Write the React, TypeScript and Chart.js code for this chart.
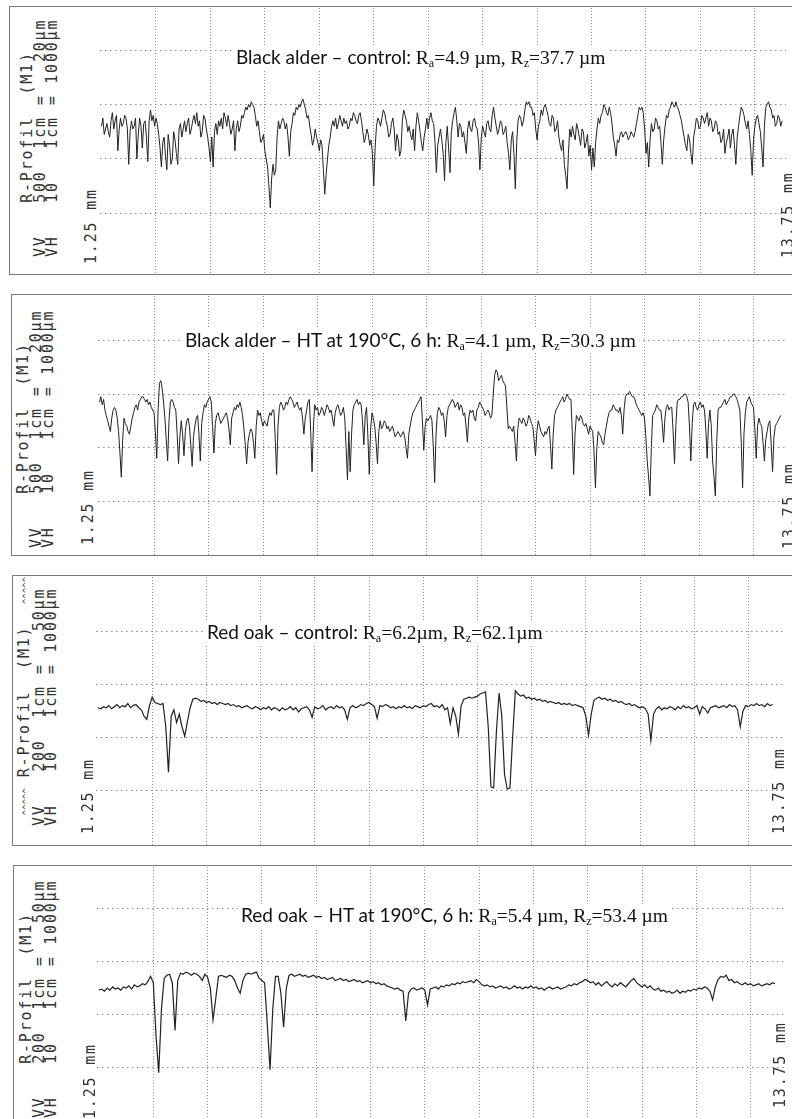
import React, { useEffect, useRef } from "react";
import { Chart, registerables } from "chart.js";

Chart.register(...registerables);

// ---------- data ----------
const START_MM = 1.25; // first sample of the evaluation length (mm)
const STEP_FINE_MM = 0.025; // sampling step of the black alder profiles (mm)
const STEP_MM = 0.05; // sampling step of the red oak profiles (mm)
const GRID_X_MM = [2.25, 3.25, 4.25, 5.25, 6.25, 7.25, 8.25, 9.25, 10.25, 11.25, 12.25, 13.25];
const GRID_Y_20 = [20, 0, -20, -40]; // 1 cm = 20 µm
const GRID_Y_50 = [50, 0, -50, -100]; // 1 cm = 50 µm

// Black alder – control (µm)
const ALDER_CONTROL = [
  -8, -5, -11, -9, -7, -10, -12, -6, -3, -9, -6, -4, -17, -9, -5, -8, -7, -4, -5, -9,
  -22, -10, -6, -9, -8, -5, -20, -11, -5, -8, -16, -7, -6, -12, -21, -6, -2, -6, -4, -8,
  -5, -7, -11, -16, -23, -14, -12, -19, -24, -11, -15, -22, -20, -10, -13, -18, -22, -9, -7, -12,
  -9, -6, -10, -7, -5, -11, -9, -6, -4, -7, -3, -8, -6, -12, -10, -4, -5, -9, -12, -16,
  -21, -12, -23, -10, -7, -11, -6, -8, -5, -9, -3, -5, -8, -4, -7, -11, -9, -6, -17, -9,
  -6, -10, -8, -4, -5, -3, -1, -2, 0, -1, 1, 0, -1, -4, -8, -6, -10, -14, -13, -11,
  -17, -20, -23, -30, -38, -27, -22, -26, -24, -12, -6, -9, -7, -5, -6, -9, -7, -12, -19, -10,
  -7, -3, -4, -1, -2, 0, -1, 1, 2, 0, -2, -5, -4, -8, -11, -15, -13, -9, -12, -14,
  -17, -13, -15, -24, -33, -26, -20, -15, -12, -8, -6, -8, -5, -9, -7, -4, -6, -8, -5, -7,
  -6, -9, -8, -5, -6, -3, -4, -6, -7, -4, -3, -6, -10, -14, -12, -9, -11, -15, -13, -18,
  -30, -16, -8, -5, -6, -8, -5, -2, -3, -6, -8, -12, -11, -7, -5, -9, -17, -11, -13, -19,
  -17, -6, -2, -4, -6, -10, -8, -11, -13, -9, -17, -8, -3, -6, -10, -14, -17, -12, -9, -5,
  -9, -5, -3, -6, -7, -14, -25, -15, -12, -9, -13, -18, -28, -14, -8, -16, -25, -10, -6, -3,
  -1, -6, -12, -7, -8, -12, -10, -14, -18, -9, -6, -9, -10, -6, -5, -8, -9, -14, -24, -12,
  -8, -10, -12, -7, -6, -9, -10, -4, -1, -5, -8, -11, -9, -6, -7, -11, -10, -8, -14, -18,
  -24, -13, -10, -18, -31, -14, -6, -4, -5, -8, -6, -2, 1, 0, 1, -1, -1, -4, -3, -9,
  -13, -8, -6, -2, -4, -1, 0, -2, -4, -7, -8, -4, -5, -10, -9, -6, -12, -15, -17, -13,
  -22, -26, -31, -18, -9, -12, -8, -11, -13, -7, -9, -12, -15, -9, -10, -16, -14, -11, -19, -15,
  -24, -16, -23, -14, -9, -5, -7, -4, -3, 0, -1, -3, -4, -1, -3, -7, -12, -15, -19, -13,
  -14, -11, -10, -12, -11, -10, -11, -13, -12, -10, -11, -12, -10, -7, -4, -1, -2, -1, -3, -9,
  -18, -14, -23, -13, -7, -10, -9, -5, -6, -9, -8, -14, -22, -13, -8, -4, -5, -2, -1, 1,
  0, -1, 1, -1, -2, -4, -6, -9, -12, -15, -17, -11, -13, -18, -22, -12, -9, -5, -6, -9,
  -8, -4, -5, -7, -5, -3, -8, -5, -6, -10, -9, -6, -7, -11, -10, -14, -13, -9, -18, -14,
  -12, -9, -16, -11, -9, -15, -22, -12, -8, -4, -1, -2, -4, -7, -9, -6, -11, -17, -26, -13,
  -8, -5, -4, -7, -10, -16, -23, -8, -1, 0, 1, -1, -2, -5, -4, -8, -7, -4, -5, -8,
  -6,
];

// Black alder – HT at 190 °C, 6 h (µm)
const ALDER_HT = [
  -3, -1, -4, -2, -6, -8, -10, -12, -14, -9, -6, -5, -6, -9, -14, -22, -31, -17, -9, -11,
  -12, -14, -15, -12, -9, -7, -5, -4, -6, -3, -2, -1, -1, -2, -3, -2, -4, -3, -5, -6,
  -7, -14, -24, -6, 4, 5, 2, -3, -9, -17, -25, -10, -3, -2, -3, -5, -6, -15, -26, -16,
  -10, -15, -23, -14, -10, -9, -12, -19, -27, -16, -12, -9, -8, -15, -25, -11, -7, -4, -5, -3,
  -2, -1, -3, -12, -22, -11, -8, -7, -9, -11, -10, -9, -8, -7, -9, -13, -19, -9, -7, -5,
  -6, -4, -5, -3, -5, -8, -13, -19, -26, -18, -15, -13, -14, -18, -24, -12, -6, -8, -7, -10,
  -12, -10, -11, -12, -9, -7, -8, -6, -6, -17, -30, -12, -5, -3, -4, -6, -5, -3, -4, -2,
  -1, -2, -3, -5, -4, -3, -5, -6, -5, -9, -15, -9, -6, -3, -2, -14, -29, -12, -4, -6,
  -5, -8, -7, -5, -6, -8, -6, -4, -5, -7, -6, -9, -12, -7, -5, -4, -6, -8, -7, -5,
  -9, -20, -32, -14, -29, -15, -6, -4, -3, -2, -4, -3, -4, -10, -19, -8, -5, -16, -30, -13,
  -7, -9, -12, -18, -26, -14, -10, -13, -12, -10, -11, -13, -12, -14, -13, -12, -14, -16, -15, -14,
  -15, -16, -15, -14, -16, -20, -24, -15, -12, -9, -7, -6, -5, -4, -3, -2, -1, -10, -21, -12,
  -9, -10, -9, -8, -10, -20, -33, -15, -7, -5, -6, -8, -7, -10, -16, -8, -5, -4, -3, -2,
  -3, -5, -4, -3, -6, -4, -5, -8, -7, -12, -18, -9, -6, -7, -6, -9, -10, -6, -5, -3,
  -4, -5, -6, -8, -7, -6, -7, -9, -8, 0, 7, 9, 8, 5, 6, 7, 5, 4, 3, -5,
  -13, -12, -13, -14, -12, -18, -25, -13, -9, -10, -11, -9, -10, -12, -11, -8, -9, -11, -12, -17,
  -23, -14, -10, -12, -14, -15, -16, -14, -15, -13, -12, -19, -28, -15, -8, -6, -5, -4, -3, -2,
  -1, -3, -2, 0, -1, -2, -2, -14, -30, -15, -8, -9, -10, -8, -9, -11, -12, -11, -13, -15,
  -12, -13, -14, -22, -35, -20, -14, -15, -16, -18, -19, -15, -12, -9, -7, -6, -6, -4, -5, -6,
  -6, -7, -5, -8, -15, -6, -1, 0, 0, 1, 0, -1, -1, -2, -4, -5, -6, -7, -8, -7,
  -9, -16, -25, -31, -38, -20, -8, -7, -6, -4, -5, -6, -6, -11, -18, -9, -5, -4, -6, -5,
  -5, -14, -26, -12, -3, -2, -2, -1, -1, 0, 0, -1, -3, -12, -25, -11, -4, -3, -5, -6,
  -4, -3, -5, -4, -6, -13, -24, -11, -6, -12, -25, -31, -38, -18, -6, -5, -5, -4, -3, -2,
  -4, -3, -2, -1, -1, 0, 0, -1, -2, -4, -6, -18, -35, -15, -7, -3, -2, -1, -3, -4,
  -5, -13, -24, -12, -9, -11, -12, -18, -25, -17, -14, -11, -10, -19, -29, -16, -12, -11, -10, -9,
  -8,
];

// Red oak – control (µm)
const OAK_CONTROL = [
  -22, -23, -21, -22, -20, -23, -21, -19, -22, -20,
  -21, -18, -22, -20, -19, -22, -24, -30, -33, -20,
  -12, -17, -18, -19, -18, -40, -83, -30, -24, -36,
  -28, -40, -49, -35, -22, -14, -13, -14, -16, -15,
  -17, -16, -18, -17, -19, -17, -18, -19, -18, -20,
  -19, -21, -20, -22, -21, -20, -22, -23, -21, -22,
  -24, -22, -23, -21, -24, -22, -23, -25, -22, -24,
  -23, -21, -24, -22, -26, -23, -22, -21, -24, -31,
  -21, -23, -22, -20, -24, -22, -21, -23, -20, -22,
  -21, -24, -33, -22, -20, -22, -21, -19, -20, -18,
  -17, -19, -21, -32, -20, -21, -19, -20, -22, -21,
  -23, -21, -22, -20, -22, -21, -23, -20, -21, -22,
  -20, -21, -19, -18, -21, -20, -22, -19, -24, -22,
  -37, -22, -30, -47, -20, -14, -13, -12, -13, -12,
  -11, -9, -8, -7, -40, -97, -98, -45, -8, -30,
  -85, -99, -98, -50, -6, -9, -11, -10, -13, -12,
  -14, -13, -15, -14, -16, -15, -17, -16, -17, -18,
  -17, -19, -18, -19, -18, -20, -19, -20, -21, -22,
  -30, -48, -28, -15, -13, -12, -14, -13, -15, -14,
  -16, -15, -17, -16, -18, -19, -18, -20, -19, -21,
  -22, -21, -23, -28, -53, -28, -23, -21, -24, -22,
  -23, -21, -22, -24, -21, -23, -20, -22, -21, -23,
  -22, -20, -28, -21, -23, -27, -22, -21, -20, -22,
  -21, -20, -22, -19, -21, -20, -24, -40, -25, -20,
  -21, -19, -20, -18, -20, -19, -21, -18, -20, -19,
];

// Red oak – HT at 190 °C, 6 h (µm)
const OAK_HT = [
  -27, -26, -28, -25, -27, -24, -26, -25, -27, -24,
  -25, -23, -26, -22, -24, -23, -21, -22, -19, -14,
  -20, -70, -105, -45, -16, -13, -12, -20, -65, -18,
  -11, -12, -10, -11, -13, -11, -12, -14, -18, -12,
  -15, -25, -55, -35, -14, -13, -14, -15, -13, -14,
  -18, -25, -30, -18, -12, -11, -12, -11, -10, -16,
  -18, -20, -60, -102, -45, -14, -14, -30, -62, -25,
  -13, -12, -14, -13, -12, -14, -13, -15, -14, -13,
  -15, -14, -16, -15, -17, -16, -15, -18, -17, -16,
  -18, -17, -19, -18, -17, -19, -18, -20, -19, -18,
  -20, -19, -21, -20, -22, -21, -23, -24, -25, -26,
  -25, -27, -28, -56, -30, -26, -25, -27, -26, -25,
  -27, -41, -26, -25, -24, -26, -23, -24, -22, -23,
  -21, -22, -20, -21, -19, -20, -19, -18, -20, -17,
  -19, -22, -23, -22, -24, -23, -25, -24, -23, -25,
  -24, -26, -25, -23, -25, -24, -26, -24, -25, -23,
  -25, -24, -26, -25, -27, -25, -24, -26, -25, -24,
  -26, -25, -24, -22, -23, -21, -22, -20, -19, -17,
  -18, -20, -19, -22, -20, -23, -21, -19, -22, -24,
  -21, -23, -20, -22, -24, -21, -18, -16, -20, -22,
  -24, -22, -25, -23, -26, -27, -25, -28, -27, -29,
  -28, -30, -29, -27, -30, -28, -29, -27, -28, -26,
  -27, -25, -26, -24, -25, -28, -36, -24, -17, -14,
  -15, -13, -18, -17, -20, -19, -21, -22, -20, -22,
  -21, -23, -22, -21, -23, -22, -21, -22, -20, -21,
];

// ---------- layout ----------
type PanelCfg = {
  box: { left: number; top: number; height: number };
  x0: number; // px of START_MM
  pxPerMm: number;
  zeroPx: number; // px of 0 µm
  pxPerUm: number;
  step: number;
  lineWidth: number;
  gridY: number[];
  values: number[];
  title: { left: number; top: number; sans: string; serif: React.ReactNode };
  lines: React.ReactNode[];
  leftText: { left: number; top: number };
  lbl125: { left: number; top: number };
  lbl1375: { left: number; top: number };
};

const sub = (t: string) => (
  <span style={{ fontSize: "0.62em", verticalAlign: "-0.22em", lineHeight: 0 }}>{t}</span>
);

const caret = <span style={{ fontSize: 9, letterSpacing: 0 }}>^^^^^</span>;

const PANELS: PanelCfg[] = [
  {
    box: { left: 9, top: 6, height: 269 },
    x0: 101.5, pxPerMm: 54.45, zeroPx: 104, pxPerUm: 54.4 / 20,
    step: STEP_FINE_MM, lineWidth: 1,
    gridY: GRID_Y_20, values: ALDER_CONTROL,
    title: {
      left: 233, top: 46, sans: "Black alder – control: ",
      serif: <>R{sub("a")}=4.9 µm, R{sub("z")}=37.7 µm</>,
    },
    lines: ["     R-Profil  (M1)", "VV   500  1cm =   20µm", "VH   10   1cm = 1000µm"],
    leftText: { left: 21, top: 257 },
    lbl125: { left: 85, top: 264 },
    lbl1375: { left: 782, top: 258 },
  },
  {
    box: { left: 11, top: 294, height: 262 },
    x0: 99.5, pxPerMm: 54.5, zeroPx: 393.5, pxPerUm: 53.6 / 20,
    step: STEP_FINE_MM, lineWidth: 1,
    gridY: GRID_Y_20, values: ALDER_HT,
    title: {
      left: 182, top: 329, sans: "Black alder – HT at 190°C, 6 h: ",
      serif: <>R{sub("a")}=4.1 µm, R{sub("z")}=30.3 µm</>,
    },
    lines: ["     R-Profil  (M1)", "VV   500  1cm =   20µm", "VH   10   1cm = 1000µm"],
    leftText: { left: 17, top: 548 },
    lbl125: { left: 82, top: 545 },
    lbl1375: { left: 783, top: 549 },
  },
  {
    box: { left: 12, top: 575, height: 271 },
    x0: 98, pxPerMm: 54.2, zeroPx: 684, pxPerUm: 52.8 / 50,
    step: STEP_MM, lineWidth: 1.2,
    gridY: GRID_Y_50, values: OAK_CONTROL,
    title: {
      left: 204, top: 621, sans: "Red oak – control: ",
      serif: <>R{sub("a")}=6.2µm, R{sub("z")}=62.1µm</>,
    },
    lines: [<> {caret} R-Profil  (M1)  {caret}</>, "VV   200  1cm =   50µm", "VH   10   1cm = 1000µm"],
    leftText: { left: 18, top: 826 },
    lbl125: { left: 82, top: 834 },
    lbl1375: { left: 773, top: 834 },
  },
  {
    box: { left: 13, top: 865, height: 270 },
    x0: 99, pxPerMm: 54.3, zeroPx: 961, pxPerUm: 53 / 50,
    step: STEP_MM, lineWidth: 1.2,
    gridY: GRID_Y_50, values: OAK_HT,
    title: {
      left: 238, top: 904, sans: "Red oak – HT at 190°C, 6 h: ",
      serif: <>R{sub("a")}=5.4 µm, R{sub("z")}=53.4 µm</>,
    },
    lines: ["     R-Profil  (M1)", "VV   200  1cm =   50µm", "VH   10   1cm = 1000µm"],
    leftText: { left: 20, top: 1118 },
    lbl125: { left: 84, top: 1119 },
    lbl1375: { left: 774, top: 1108 },
  },
];

const CANVAS_RIGHT = 786;
const BORDER = 1.5;

const monoStyle: React.CSSProperties = {
  position: "absolute",
  transform: "rotate(-90deg)",
  transformOrigin: "0 0",
  whiteSpace: "pre",
  fontFamily: '"DejaVu Sans Mono", "Liberation Mono", monospace',
  fontSize: 15,
  letterSpacing: "1.8px",
  lineHeight: "12.5px",
  color: "#333",
};

function ProfileCanvas({ cfg }: { cfg: PanelCfg }) {
  const ref = useRef<HTMLCanvasElement | null>(null);
  const cl = Math.round(cfg.x0) - 2;
  const cTop = cfg.box.top + BORDER;
  const cBottom = cfg.box.top + cfg.box.height - BORDER;
  const w = CANVAS_RIGHT - cl;
  const h = Math.round(cBottom - cTop);

  useEffect(() => {
    if (!ref.current) return;
    const xMin = START_MM - (cfg.x0 - cl) / cfg.pxPerMm;
    const xMax = START_MM + (CANVAS_RIGHT - cfg.x0) / cfg.pxPerMm;
    const yMax = (cfg.zeroPx - cTop) / cfg.pxPerUm;
    const yMin = -(cTop + h - cfg.zeroPx) / cfg.pxPerUm;
    const chart = new Chart(ref.current, {
      type: "line",
      data: {
        datasets: [
          {
            data: cfg.values.map((v, i) => ({ x: START_MM + i * cfg.step, y: v })),
            borderColor: "#222",
            borderWidth: cfg.lineWidth,
            pointRadius: 0,
            tension: 0,
            fill: false,
          },
        ],
      },
      options: {
        animation: false,
        responsive: false,
        events: [],
        layout: { padding: 0, autoPadding: false },
        plugins: {
          legend: { display: false },
          tooltip: { enabled: false },
          title: { display: false },
        },
        scales: {
          x: {
            type: "linear",
            min: xMin,
            max: xMax,
            afterBuildTicks: (s: any) => {
              s.ticks = GRID_X_MM.map((v) => ({ value: v }));
            },
            afterFit: (s: any) => {
              s.height = 0;
            },
            ticks: { display: false },
            grid: { color: "#8a8a8a", lineWidth: 1, drawTicks: false },
            border: { display: false, dash: [1, 2] },
          },
          y: {
            type: "linear",
            min: yMin,
            max: yMax,
            afterBuildTicks: (s: any) => {
              s.ticks = cfg.gridY.map((v) => ({ value: v }));
            },
            afterFit: (s: any) => {
              s.width = 0;
            },
            ticks: { display: false },
            grid: { color: "#8a8a8a", lineWidth: 1, drawTicks: false },
            border: { display: false, dash: [1.5, 3.5] },
          },
        },
      } as any,
    });
    return () => chart.destroy();
  }, []);

  return (
    <canvas
      ref={ref}
      width={w}
      height={h}
      style={{ position: "absolute", left: cl, top: cTop, width: w, height: h }}
    />
  );
}

function Panel({ cfg }: { cfg: PanelCfg }) {
  return (
    <>
      <div
        style={{
          position: "absolute",
          left: cfg.box.left,
          top: cfg.box.top,
          width: 800 - cfg.box.left,
          height: cfg.box.height,
          boxSizing: "border-box",
          borderStyle: "solid",
          borderColor: "#7a7a7a",
          borderWidth: `${BORDER}px 0 ${BORDER}px ${BORDER}px`,
        }}
      />
      <ProfileCanvas cfg={cfg} />
      <div
        style={{
          position: "absolute",
          left: cfg.title.left,
          top: cfg.title.top,
          background: "#fff",
          padding: "0 3px",
          whiteSpace: "pre",
          lineHeight: "22px",
          color: "#111",
        }}
      >
        <span style={{ fontFamily: "Lato, 'Open Sans', sans-serif", fontSize: 19 }}>{cfg.title.sans}</span>
        <span style={{ fontFamily: '"Liberation Serif", "DejaVu Serif", serif', fontSize: 19.5 }}>
          {cfg.title.serif}
        </span>
      </div>
      <div style={{ ...monoStyle, left: cfg.leftText.left, top: cfg.leftText.top }}>
        {cfg.lines.map((l, i) => (
          <div key={i}>{l}</div>
        ))}
      </div>
      <div style={{ ...monoStyle, left: cfg.lbl125.left, top: cfg.lbl125.top }}>1.25 mm</div>
      <div style={{ ...monoStyle, left: cfg.lbl1375.left, top: cfg.lbl1375.top }}>13.75 mm</div>
    </>
  );
}

export default function App() {
  return (
    <div
      style={{
        position: "absolute",
        left: 0,
        top: 0,
        width: 792,
        height: 1119,
        overflow: "hidden",
        background: "#fff",
      }}
    >
      {PANELS.map((p, i) => (
        <Panel key={i} cfg={p} />
      ))}
    </div>
  );
}
